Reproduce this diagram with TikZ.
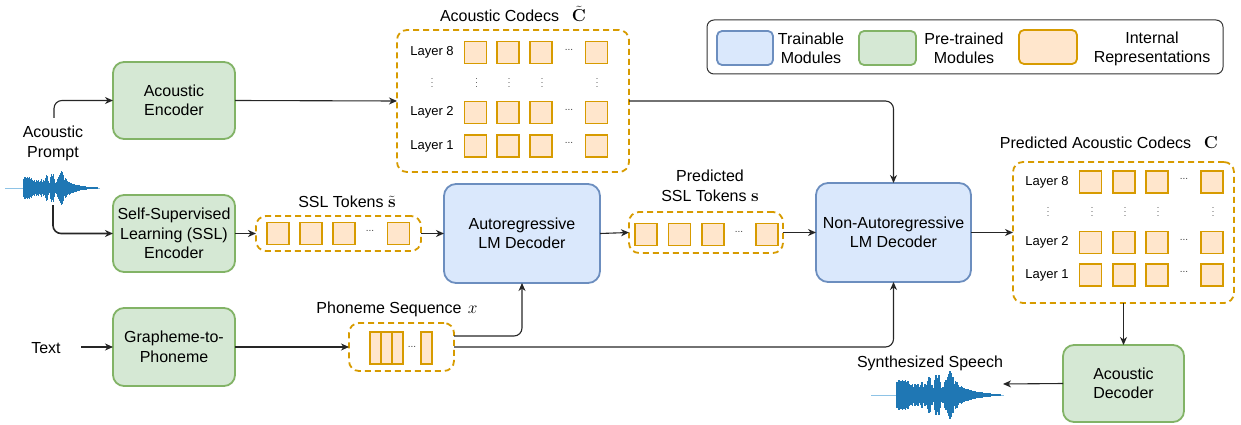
\documentclass[tikz,border=0pt]{standalone}
\usepackage[no-math]{fontspec}
\setmainfont{Liberation Sans}
\usetikzlibrary{arrows.meta,calc}
\definecolor{bluefill}{HTML}{DAE8FC}
\definecolor{bluedraw}{HTML}{6C8EBF}
\definecolor{greenfill}{HTML}{D5E8D4}
\definecolor{greendraw}{HTML}{82B366}
\definecolor{orfill}{HTML}{FFE6CC}
\definecolor{ordraw}{HTML}{D79B00}
\definecolor{wavecol}{HTML}{1F77B4}
\definecolor{wavelight}{HTML}{8EC3E6}
\newcommand{\mywaveform}{%
  \draw[wavelight, line width=0.8pt] (0,0) -- (95,0);
  \foreach \x/\a in {18/9,19/11,20/11,21/10,22/11,23/10,24/11,25/9,26/10,27/8,28/7,29/8,30/6,31/8,32/7,33/8,34/6,35/7,36/9,37/6,38/8,39/7,40/10,41/13,42/12,43/7,44/5,45/11,46/14,47/12,48/14,49/9,50/5,51/6,52/9,53/11,54/13,55/15,56/17,57/16,58/13,59/8,60/10,61/9,62/7,63/6,64/6.5,65/5.5,66/5,67/4.5,68/4.5,69/4,70/3.5,71/3.5,72/3,73/3,74/2.6,75/2.4,76/2.2,77/2,78/1.9,79/1.8,80/1.6,81/1.5,82/1.4,83/1.3,84/1.2,85/1.1,86/1,87/1,88/0.9,89/0.9,90/0.8,91/0.8,92/0.7}
    {\fill[wavecol] (\x,-\a) rectangle ({\x+1},\a);}
}
\tikzset{
  lbl/.style={font=\fontsize{16}{19.5}\selectfont, inner sep=0pt, align=center},
  small/.style={font=\fontsize{13}{15}\selectfont, inner sep=0pt},
  mgreen/.style={lbl, draw=greendraw, fill=greenfill, line width=1.8pt, rounded corners=11pt, outer sep=0pt},
  mblue/.style={lbl, draw=bluedraw, fill=bluefill, line width=1.8pt, rounded corners=12pt, outer sep=0pt},
  sz/.style 2 args={minimum width=#1pt, minimum height=#2pt},
  cont/.style={draw=ordraw, line width=1.8pt, dash pattern=on 6pt off 4pt, rounded corners=10pt, inner sep=0pt, outer sep=0pt},
  sq/.style={draw=ordraw, fill=orfill, line width=1.1pt, minimum size=22pt, inner sep=0pt},
  ph/.style={draw=ordraw, fill=orfill, line width=1.1pt, minimum width=11pt, minimum height=32pt, inner sep=0pt},
  hdots/.style={font=\fontsize{10}{10}\selectfont, text=black!75, inner sep=0pt},
  vdts/.style={font=\fontsize{9}{9}\selectfont, text=black!70, inner sep=0pt},
  conn/.style={draw=black!85, line width=1.1pt, -{Stealth[length=8pt,width=7pt,inset=2.5pt]}, rounded corners=8pt},
  bconn/.style={conn, line width=1.6pt},
}
\begin{document}
\begin{tikzpicture}[x=1pt, y=-1pt]
\useasboundingbox (0,0) rectangle (1241,425);

% ---------- legend ----------
\node[draw=black!80, line width=1pt, rounded corners=7pt, minimum width=516pt, minimum height=54pt, inner sep=0pt] (legend) at (965,47) {};
\node[draw=bluedraw, fill=bluefill, line width=1.8pt, rounded corners=5pt, sz={56}{34}, inner sep=0pt] (lgblue) at (745,48) {};
\node[draw=greendraw, fill=greenfill, line width=1.8pt, rounded corners=5pt, sz={57}{34}, inner sep=0pt] (lggreen) at (887.5,48) {};
\node[draw=ordraw, fill=orfill, line width=1.8pt, rounded corners=5pt, sz={58}{34}, inner sep=0pt] (lgorange) at (1048,47) {};
\node[lbl, font=\fontsize{16}{19}\selectfont] (lgt1) at (811,48.5) {Trainable\\Modules};
\node[lbl, font=\fontsize{16}{19}\selectfont] (lgt2) at (964,48.5) {Pre-trained\\Modules};
\node[lbl, font=\fontsize{16}{19}\selectfont] (lgt3) at (1152,48.5) {Internal\\Representations};

% ---------- modules ----------
\node[mgreen, sz={122}{77}] (ae) at (174,100.5) {Acoustic\\Encoder};
\node[mgreen, sz={122}{77}] (sslenc) at (174,233.5) {Self-Supervised\\Learning (SSL)\\Encoder};
\node[mgreen, sz={122}{78}] (g2p) at (174,347) {Grapheme-to-\\Phoneme};
\node[mblue, sz={156}{99}] (ar) at (522,233.5) {Autoregressive\\LM Decoder};
\node[mblue, sz={155}{99}] (nar) at (893.5,232.5) {Non-Autoregressive\\LM Decoder};
\node[mgreen, sz={121}{77}] (ad) at (1123.5,383.5) {Acoustic\\Decoder};

% ---------- input labels ----------
\node[lbl] (prompt) at (53,143.5) {Acoustic\\Prompt};
\node[lbl] (text) at (46,348) {Text};
\begin{scope}[shift={(5,188)}]
  \mywaveform
\end{scope}
\coordinate (pup) at (54,118);
\coordinate (pdown) at (53,205);
\coordinate (textout) at (81,347);

% ---------- acoustic codecs ----------
\node[cont, sz={232}{142}] (codec) at (513,101) {};
\node[lbl] (codect) at (513,14) {Acoustic Codecs\hspace{0.8em}$\tilde{\mathbf{C}}$};
\foreach \r/\y in {8/52.5,2/112.5,1/146}{
  \node[small] (cl\r) at (432,\y) {Layer \r};
  \foreach \i/\x in {1/475.5,2/508,3/541,5/596.5}
    \node[sq] (c\r-\i) at (\x,\y) {};
  \node[hdots] (cd\r) at (569,{\y-3}) {...};
}
\foreach \i/\x in {1/432,2/476.5,3/509,4/542,5/597}
  \node[vdts] (cv\i) at (\x,80) {$\vdots$};

% ---------- predicted acoustic codecs ----------
\node[cont, sz={221}{141}] (pcodec) at (1123.5,232.5) {};
\node[lbl] (pcodect) at (1109,143) {Predicted Acoustic Codecs\hspace{0.8em}$\mathbf{C}$};
\foreach \r/\y in {8/182,2/242.5,1/275}{
  \node[small] (pl\r) at (1047,\y) {Layer \r};
  \foreach \i/\x in {1/1090.5,2/1124,3/1157,5/1212}
    \node[sq] (p\r-\i) at (\x,\y) {};
  \node[hdots] (pd\r) at (1184,{\y-3}) {...};
}
\foreach \i/\x in {1/1048,2/1092,3/1125,4/1158,5/1213}
  \node[vdts] (pv\i) at (\x,209) {$\vdots$};

% ---------- SSL tokens ----------
\node[cont, sz={165}{35}] (ssl) at (338.5,233.5) {};
\node[lbl] (sslt) at (347,202) {SSL Tokens $\tilde{\mathbf{s}}$};
\foreach \i/\x in {1/278,2/311,3/344,5/398.5}
  \node[sq] (s\i) at (\x,233.5) {};
\node[hdots] (sd) at (370,230.5) {...};

% ---------- predicted SSL tokens ----------
\node[cont, sz={154}{41}] (pssl) at (706,232.5) {};
\node[lbl] (psslt) at (710,186) {Predicted\\SSL Tokens $\mathbf{s}$};
\foreach \i/\x in {1/646,2/679.5,3/713,5/767}
  \node[sq] (ps\i) at (\x,234.5) {};
\node[hdots] (psd) at (739,231.5) {...};

% ---------- phoneme sequence ----------
\node[cont, sz={105}{48}] (phon) at (401.5,347) {};
\node[lbl] (phont) at (397,309) {Phoneme Sequence\hspace{0.4em}$x$};
\foreach \i/\x in {1/375.5,2/386.5,3/397.5,5/426.5}
  \node[ph] (ph\i) at (\x,348) {};
\node[hdots] (phd) at (412,347) {...};

% ---------- synthesized speech ----------
\node[lbl] (synt) at (930,363) {Synthesized Speech};
\begin{scope}[shift={(871,395)}, scale=1.4]
  \mywaveform
\end{scope}
\coordinate (speechin) at (1003,384);

% ---------- connectors ----------
\draw[conn] (pup) |- (ae.west);
\draw[bconn] (pdown) |- (sslenc.west);
\draw[conn] (textout) -- (g2p.west);
\draw[conn] (ae.east) -- (codec.west);
\draw[conn] (codec.east) -| (nar.north);
\draw[bconn] (sslenc.east) -- (ssl.west);
\draw[bconn] (ssl.east) -- (ar.west);
\draw[conn] (ar.east) -- (pssl.west);
\draw[conn] (pssl.east) -- (nar.west);
\draw[conn] (nar.east) -- (pcodec.west);
\draw[conn] (pcodec.south) -- (ad.north);
\draw[conn] (ad.west) -- (speechin);
\draw[conn] (g2p.east) -- (phon.west);
\draw[conn] ([yshift=11pt]phon.east) -| (ar.south);
\draw[conn] (phon.east) -| (nar.south);
\end{tikzpicture}
\end{document}
